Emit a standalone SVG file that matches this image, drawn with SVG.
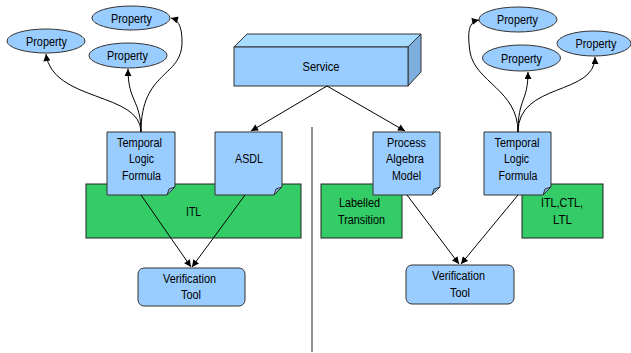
<svg xmlns="http://www.w3.org/2000/svg" width="631" height="353" viewBox="0 0 631 353">
<defs>
<marker id="ah" viewBox="0 0 10 10" refX="10" refY="5" markerWidth="9" markerHeight="7" markerUnits="userSpaceOnUse" orient="auto">
<path d="M0,0 L10,5 L0,10 Z" fill="#000"/>
</marker>
<style>
.t{font-family:"Liberation Sans",Arial,sans-serif;font-size:12.5px;fill:#000;text-anchor:middle}
.bl{fill:#99CCFF;stroke:#333;stroke-width:1}
.gr{fill:#33CC66;stroke:#222;stroke-width:1}
.fold{fill:#7FB2E5;stroke:#333;stroke-width:1}
.c{fill:none;stroke:#000;stroke-width:1;marker-end:url(#ah)}
</style>
</defs>
<rect width="631" height="353" fill="#fff"/>
<line x1="312" y1="127" x2="312" y2="352" stroke="#555" stroke-width="1.3"/>

<g id="itl">
<rect class="gr" x="86" y="184" width="215" height="54"/>
<text class="t" x="193.5" y="216" textLength="15" lengthAdjust="spacingAndGlyphs">ITL</text>
</g>
<g id="labelled">
<rect class="gr" x="321" y="184" width="81" height="54"/>
<text class="t" x="359.5" y="207" textLength="41" lengthAdjust="spacingAndGlyphs">Labelled</text>
<text class="t" x="361.5" y="224" textLength="47" lengthAdjust="spacingAndGlyphs">Transition</text>
</g>
<g id="itlctl">
<rect class="gr" x="522" y="184" width="81" height="54"/>
<text class="t" x="562" y="207" textLength="42" lengthAdjust="spacingAndGlyphs">ITL,CTL,</text>
<text class="t" x="562.5" y="224" textLength="19" lengthAdjust="spacingAndGlyphs">LTL</text>
</g>

<g id="service">
<path d="M234,47 L247,34 L421,34 L408,47 Z" fill="#A6DCFF" stroke="#333"/>
<path d="M408,47 L421,34 L421,72 L408,86 Z" fill="#7DAEDD" stroke="#333"/>
<rect class="bl" x="234" y="47" width="174" height="39"/>
<text class="t" x="321" y="71" textLength="37" lengthAdjust="spacingAndGlyphs">Service</text>
</g>

<g id="prop-l1">
<ellipse class="bl" cx="46" cy="41" rx="39" ry="12"/>
<text class="t" x="46.5" y="45.5" textLength="41" lengthAdjust="spacingAndGlyphs">Property</text>
</g>
<g id="prop-l2">
<ellipse class="bl" cx="131" cy="18" rx="39" ry="12"/>
<text class="t" x="131.5" y="22.5" textLength="41" lengthAdjust="spacingAndGlyphs">Property</text>
</g>
<g id="prop-l3">
<ellipse class="bl" cx="128" cy="55.5" rx="39" ry="12.5"/>
<text class="t" x="127.5" y="60" textLength="41" lengthAdjust="spacingAndGlyphs">Property</text>
</g>
<g id="prop-r1">
<ellipse class="bl" cx="518" cy="19.5" rx="39" ry="12.5"/>
<text class="t" x="517.5" y="24" textLength="41" lengthAdjust="spacingAndGlyphs">Property</text>
</g>
<g id="prop-r2">
<ellipse class="bl" cx="521.5" cy="58" rx="39" ry="13"/>
<text class="t" x="521.5" y="62.5" textLength="41" lengthAdjust="spacingAndGlyphs">Property</text>
</g>
<g id="prop-r3">
<ellipse class="bl" cx="594" cy="43.5" rx="37" ry="12.5"/>
<text class="t" x="596" y="48" textLength="41" lengthAdjust="spacingAndGlyphs">Property</text>
</g>

<g id="tlf-l">
<path class="bl" d="M107,132 H175 V187 L167,195 H107 Z"/>
<path class="fold" d="M175,187 L167,195 L169,189 Z"/>
<text class="t" x="139.5" y="147" textLength="45" lengthAdjust="spacingAndGlyphs">Temporal</text>
<text class="t" x="141.5" y="163" textLength="25" lengthAdjust="spacingAndGlyphs">Logic</text>
<text class="t" x="141.5" y="180" textLength="39" lengthAdjust="spacingAndGlyphs">Formula</text>
</g>
<g id="asdl">
<path class="bl" d="M215,132 H282 V187 L274,195 H215 Z"/>
<path class="fold" d="M282,187 L274,195 L276,189 Z"/>
<text class="t" x="249" y="163" textLength="28" lengthAdjust="spacingAndGlyphs">ASDL</text>
</g>
<g id="pam">
<path class="bl" d="M373,132 H440 V187 L432,195 H373 Z"/>
<path class="fold" d="M440,187 L432,195 L434,189 Z"/>
<text class="t" x="406.5" y="147" textLength="39" lengthAdjust="spacingAndGlyphs">Process</text>
<text class="t" x="405" y="163" textLength="38" lengthAdjust="spacingAndGlyphs">Algebra</text>
<text class="t" x="406.5" y="180" textLength="29" lengthAdjust="spacingAndGlyphs">Model</text>
</g>
<g id="tlf-r">
<path class="bl" d="M484,132 H551 V187 L543,195 H484 Z"/>
<path class="fold" d="M551,187 L543,195 L545,189 Z"/>
<text class="t" x="517" y="147" textLength="45" lengthAdjust="spacingAndGlyphs">Temporal</text>
<text class="t" x="516.5" y="163" textLength="25" lengthAdjust="spacingAndGlyphs">Logic</text>
<text class="t" x="518" y="180" textLength="39" lengthAdjust="spacingAndGlyphs">Formula</text>
</g>

<g id="vt-l">
<rect class="bl" x="138" y="268" width="107" height="38" rx="6"/>
<text class="t" x="189.5" y="283" textLength="53" lengthAdjust="spacingAndGlyphs">Verification</text>
<text class="t" x="191" y="299" textLength="20" lengthAdjust="spacingAndGlyphs">Tool</text>
</g>
<g id="vt-r">
<rect class="bl" x="406" y="265" width="108" height="39" rx="6"/>
<text class="t" x="458.5" y="280" textLength="53" lengthAdjust="spacingAndGlyphs">Verification</text>
<text class="t" x="460" y="297" textLength="20" lengthAdjust="spacingAndGlyphs">Tool</text>
</g>

<g id="connectors">
<path class="c" d="M327,86 L251,131"/>
<path class="c" d="M327,86 L405,131"/>
<path class="c" d="M141,195 L191,267"/>
<path class="c" d="M245,195 L192,267"/>
<path class="c" d="M407,195 L459,264"/>
<path class="c" d="M518,195 L461,264"/>
<path class="c" d="M141,132 C141,92 52,102 46,54"/>
<path class="c" d="M141,132 C141,100 128,102 128,69"/>
<path class="c" d="M141,132 C141,70 182,78 182,42 C182,26 178,20 171,18"/>
<path class="c" d="M518,132 C518,90 475,82 470,52 C467,30 469,22 479,20"/>
<path class="c" d="M518,132 C518,98 528,102 528,72"/>
<path class="c" d="M518,132 C518,82 595,96 595,57"/>
</g>
</svg>
